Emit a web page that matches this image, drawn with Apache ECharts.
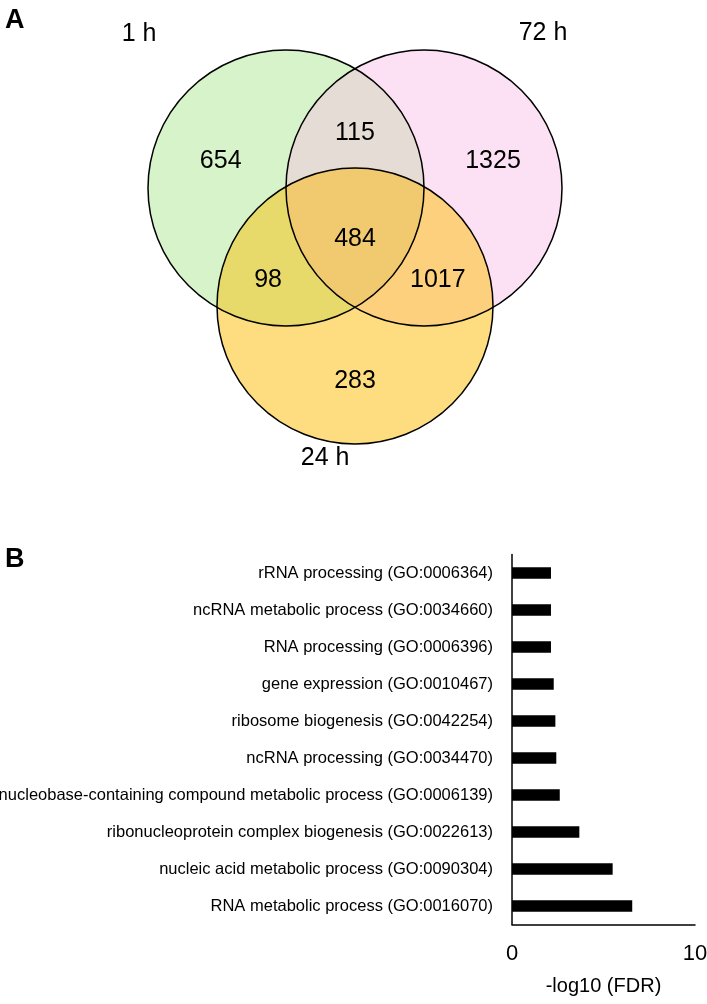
<!DOCTYPE html>
<html>
<head>
<meta charset="utf-8">
<script src="https://cdn.jsdelivr.net/npm/echarts@6/dist/echarts.min.js"></script>
<style>
html,body{margin:0;padding:0;background:#fff;}
#main{width:707px;height:1004px;}
</style>
</head>
<body>
<div id="main"></div>
<script>
// ---------- DATA ----------
// Venn: sets and region counts
const setNames = ['1 h', '72 h', '24 h'];
const regionNames = ['1h only', '1h & 72h', '72h only', 'all three', '1h & 24h', '72h & 24h', '24h only'];
const regionCounts = [654, 115, 1325, 484, 98, 1017, 283];

// GO enrichment bar chart (top to bottom)
const goTerms = [
  'rRNA processing (GO:0006364)',
  'ncRNA metabolic process (GO:0034660)',
  'RNA processing (GO:0006396)',
  'gene expression (GO:0010467)',
  'ribosome biogenesis (GO:0042254)',
  'ncRNA processing (GO:0034470)',
  'nucleobase-containing compound metabolic process (GO:0006139)',
  'ribonucleoprotein complex biogenesis (GO:0022613)',
  'nucleic acid metabolic process (GO:0090304)',
  'RNA metabolic process (GO:0016070)'
];
const negLog10FDR = [2.13, 2.13, 2.13, 2.28, 2.37, 2.42, 2.61, 3.68, 5.50, 6.57];
const xTicks = [0, 10];

// ---------- LAYOUT (Venn geometry in abstract units, radius = 1) ----------
const circleR = 1;
const circleCenters = [[-0.5, 0], [0.5, 0], [0, -0.855]];
const regionLabelPos = [[-0.973, 0.193], [0, 0.40], [1.0, 0.194], [0, -0.37], [-0.63, -0.664], [0.60, -0.664], [0, -1.40]];
const setLabelPos = [[-1.565, 1.114], [1.362, 1.123], [-0.217, -1.957]];

// ---------- STYLE ----------
const C_G = '#d7f3c9', C_P = '#fbe1f3', C_Y = '#fedd80';
const C_GP = '#e6dcd6', C_GY = '#e8d96b', C_PY = '#fcd07d', C_GPY = '#f1ca6f';
const FONT = '"Liberation Sans", Arial, Helvetica, sans-serif';

function regionPoly(cs) {
  const pts = [];
  const N = 1440;
  cs.forEach((c, i) => {
    for (let k = 0; k < N; k++) {
      const a = 2 * Math.PI * k / N;
      const p = [c.x + c.r * Math.cos(a), c.y + c.r * Math.sin(a)];
      const ok = cs.every((d, j) => j === i || Math.hypot(p[0] - d.x, p[1] - d.y) <= d.r + 0.01);
      if (ok) pts.push(p);
    }
  });
  let cx = 0, cy = 0;
  pts.forEach(p => { cx += p[0]; cy += p[1]; });
  cx /= pts.length; cy /= pts.length;
  pts.sort((a, b) => Math.atan2(a[1] - cy, a[0] - cx) - Math.atan2(b[1] - cy, b[0] - cx));
  return pts;
}

function renderVenn(params, api) {
  const rpx = api.size([circleR, 0])[0];
  const cs = circleCenters.map(c => { const p = api.coord(c); return {x: p[0], y: p[1], r: rpx}; });
  const [g, pk, y] = cs;
  const circ = (c, fill) => ({type: 'circle', shape: {cx: c.x, cy: c.y, r: c.r}, style: {fill: fill, stroke: null}});
  const poly = (list, fill) => ({type: 'polygon', shape: {points: regionPoly(list)}, style: {fill: fill, stroke: fill, lineWidth: 0.5}});
  const outline = c => ({type: 'circle', shape: {cx: c.x, cy: c.y, r: c.r}, style: {fill: null, stroke: '#000', lineWidth: 1.5}});
  return {
    type: 'group',
    children: [
      circ(g, C_G), circ(pk, C_P), poly([g, pk], C_GP),
      circ(y, C_Y), poly([g, y], C_GY), poly([pk, y], C_PY), poly([g, pk, y], C_GPY),
      outline(g), outline(pk), outline(y)
    ]
  };
}

function renderText(params, api) {
  const p = api.coord([api.value(0), api.value(1)]);
  const txt = params.context.texts[params.dataIndex];
  return {type: 'text', x: p[0], y: p[1],
          style: {text: txt, fill: '#000', font: '25px ' + FONT, align: 'center', verticalAlign: 'middle'}};
}

const chart = echarts.init(document.getElementById('main'), null, {renderer: 'canvas'});
chart.setOption({
  animation: false,
  backgroundColor: '#fff',
  textStyle: {fontFamily: FONT, color: '#000'},
  title: [
    {text: 'A', left: 5, top: 7, padding: 0, textStyle: {fontFamily: FONT, fontSize: 27, fontWeight: 'bold', color: '#000'}},
    {text: 'B', left: 5, top: 546, padding: 0, textStyle: {fontFamily: FONT, fontSize: 27, fontWeight: 'bold', color: '#000'}}
  ],
  grid: [
    {left: 10, width: 690, top: 8.6, height: 510.6, containLabel: false, outerBoundsMode: 'none'},
    {left: 512, top: 554.5, width: 183, height: 370, containLabel: false, outerBoundsMode: 'none'}
  ],
  xAxis: [
    {gridIndex: 0, type: 'value', min: -2.5, max: 2.5, show: false},
    {gridIndex: 1, type: 'value', min: xTicks[0], max: xTicks[xTicks.length - 1], interval: xTicks[1] - xTicks[0],
     axisLine: {show: true, lineStyle: {color: '#000', width: 1.5}},
     axisTick: {show: false}, splitLine: {show: false},
     axisLabel: {fontSize: 22, color: '#000', margin: 18, fontFamily: FONT},
     name: '-log10 (FDR)', nameLocation: 'middle', nameGap: 52,
     nameTextStyle: {fontSize: 20, color: '#000', fontFamily: FONT}}
  ],
  yAxis: [
    {gridIndex: 0, type: 'value', min: -2.4, max: 1.3, show: false},
    {gridIndex: 1, type: 'category', data: goTerms, inverse: true,
     axisLine: {show: true, lineStyle: {color: '#000', width: 1.5}},
     axisTick: {show: false},
     axisLabel: {fontSize: 16.5, color: '#000', margin: 19, fontFamily: FONT}}
  ],
  series: [
    {type: 'custom', xAxisIndex: 0, yAxisIndex: 0, data: [[0, 0]], renderItem: renderVenn, silent: true, clip: false},
    {type: 'custom', xAxisIndex: 0, yAxisIndex: 0, silent: true, clip: false,
     data: regionCounts.map((v, i) => ({name: regionNames[i], value: [regionLabelPos[i][0], regionLabelPos[i][1], v]})),
     renderItem: function (params, api) {
       params.context.texts = regionCounts.map(String);
       return renderText(params, api);
     }},
    {type: 'custom', xAxisIndex: 0, yAxisIndex: 0, silent: true, clip: false,
     data: setNames.map((n, i) => ({name: n, value: [setLabelPos[i][0], setLabelPos[i][1]]})),
     renderItem: function (params, api) {
       params.context.texts = setNames;
       return renderText(params, api);
     }},
    {type: 'bar', xAxisIndex: 1, yAxisIndex: 1, data: negLog10FDR, barWidth: 11.5, itemStyle: {color: '#000'}}
  ]
});
</script>
</body>
</html>
